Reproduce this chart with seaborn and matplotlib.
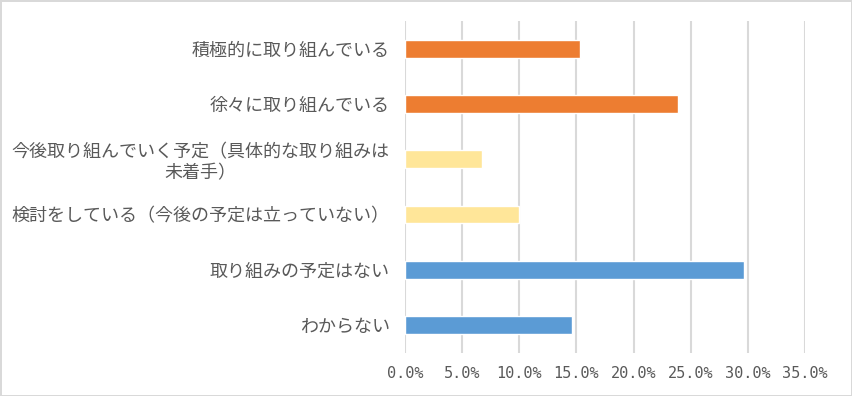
import matplotlib
matplotlib.use('Agg')
import matplotlib.pyplot as plt
import seaborn as sns
import pandas as pd
from matplotlib.ticker import FuncFormatter

# 回答カテゴリと割合(%)
categories = [
    "積極的に取り組んでいる",
    "徐々に取り組んでいる",
    "今後取り組んでいく予定（具体的な取り組みは\n未着手）",
    "検討をしている（今後の予定は立っていない）",
    "取り組みの予定はない",
    "わからない",
]
shares = [15.3, 23.9, 6.7, 10.0, 29.7, 14.6]
bar_colors = ["#ED7D31", "#ED7D31", "#FFE699", "#FFE699", "#5B9BD5", "#5B9BD5"]
x_ticks = [0, 5, 10, 15, 20, 25, 30, 35]

df = pd.DataFrame({"category": categories, "share": shares})

sns.set_theme(style="white")
plt.rcParams['font.family'] = ['Noto Sans CJK JP', 'DejaVu Sans']

fig = plt.figure(figsize=(8.52, 3.96), dpi=100)
fig.patch.set_facecolor("white")
fig.patch.set_edgecolor("#D9D9D9")
fig.patch.set_linewidth(2)
ax = fig.add_axes([0.4754, 0.1096, 0.4694, 0.8369])

sns.barplot(data=df, x="share", y="category", hue="category", palette=bar_colors,
            legend=False, width=0.32, saturation=1, ax=ax)

ax.set_xlim(0, 35)
ax.set_xticks(x_ticks)
ax.xaxis.set_major_formatter(FuncFormatter(lambda v, p: f"{v:.1f}%"))
ax.set_axisbelow(True)
ax.grid(axis="x", color="#D9D9D9", linewidth=1.5)
ax.grid(axis="y", visible=False)
for s in ax.spines.values():
    s.set_visible(False)

ax.set_xlabel("")
ax.set_ylabel("")
ax.tick_params(axis="both", length=0)
ax.tick_params(axis="y", pad=11, labelsize=13, labelcolor="#595959")
ax.tick_params(axis="x", pad=10, labelcolor="#595959")
for lbl in ax.get_yticklabels():
    lbl.set_multialignment("center")
for lbl in ax.get_xticklabels():
    lbl.set_fontfamily("DejaVu Sans Mono")
    lbl.set_fontsize(11)

fig.savefig("out.png", dpi=100)
